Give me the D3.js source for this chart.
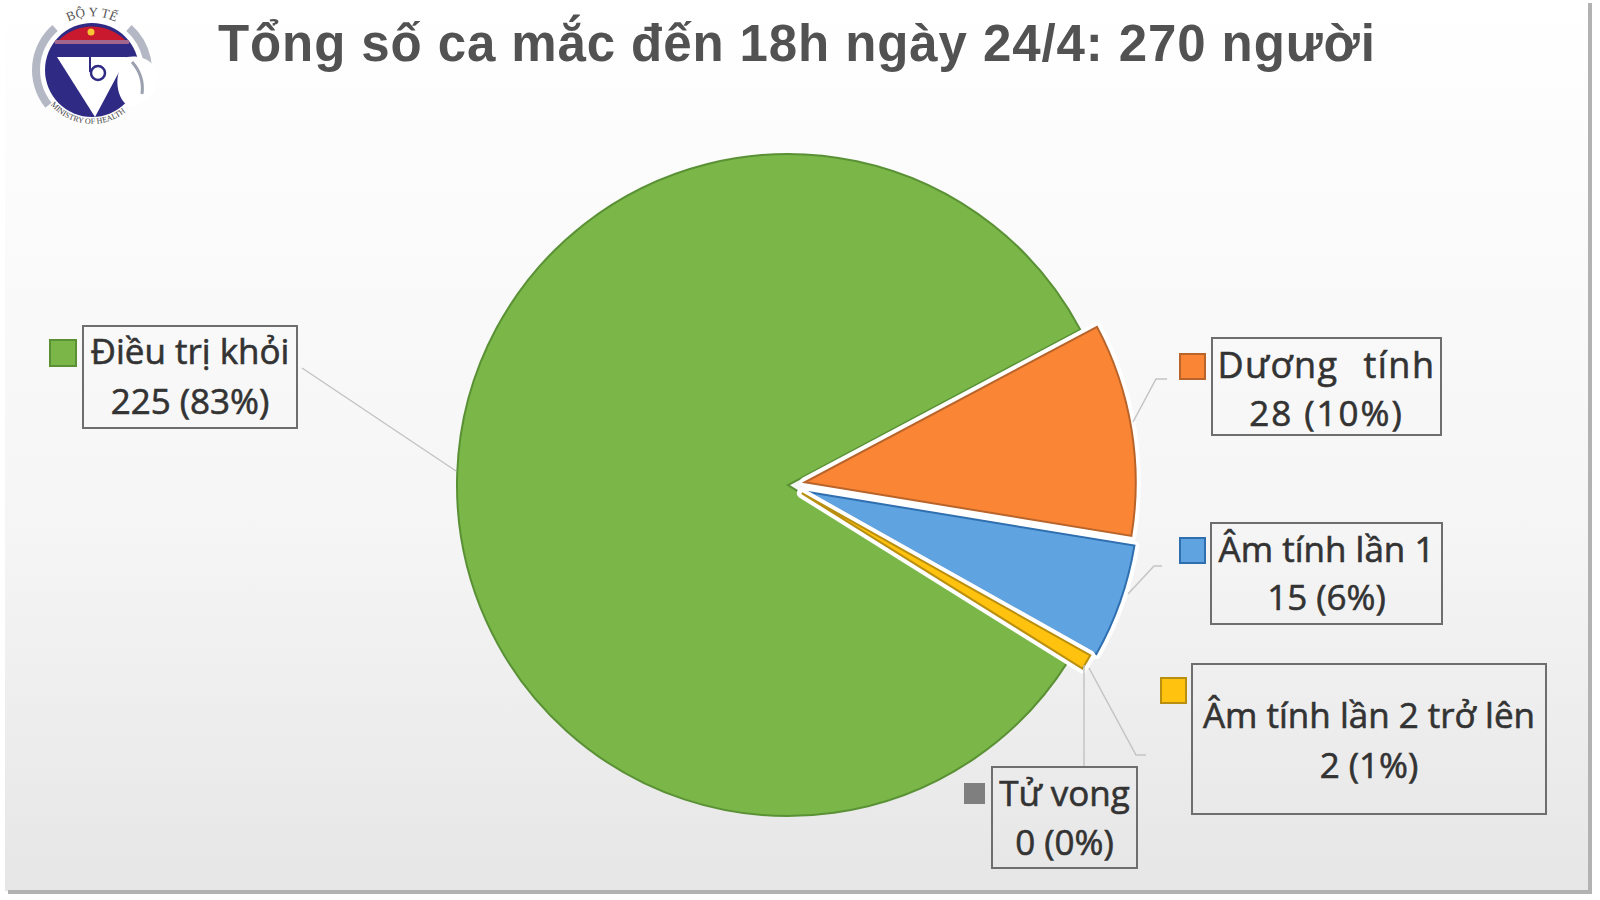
<!DOCTYPE html>
<html>
<head>
<meta charset="utf-8">
<script src="https://cdn.jsdelivr.net/npm/d3@7"></script>
<style>
html, body { margin: 0; padding: 0; background: #fff; }
svg { display: block; font-family: "Open Sans", "Noto Sans", sans-serif; }
</style>
</head>
<body>
<svg id="chart" width="1600" height="900"></svg>
<script>
var titleText = "Tổng số ca mắc đến 18h ngày 24/4: 270 người";
var categories = ["Điều trị khỏi", "Dương tính", "Âm tính lần 1", "Âm tính lần 2 trở lên", "Tử vong"];
var values = [225, 28, 15, 2, 0];
var percents = ["83%", "10%", "6%", "1%", "0%"];
var fills = ["#7ab648", "#f98535", "#5fa3e0", "#ffc20e", "#7f7f7f"];
var strokes = ["#5a9135", "#b8642a", "#2f6fb0", "#b98f10", "#7f7f7f"];
var explode = [0, 17, 21, 16, 16];

var width = 1600, height = 900,
    cx = 788, cy = 485, radius = 331;

var svg = d3.select("#chart");
var defs = svg.append("defs");

var bg = defs.append("linearGradient").attr("id", "bg")
    .attr("x1", 0).attr("y1", 0).attr("x2", 0).attr("y2", 1);
bg.append("stop").attr("offset", "0%").attr("stop-color", "#ffffff");
bg.append("stop").attr("offset", "60%").attr("stop-color", "#f5f5f5");
bg.append("stop").attr("offset", "100%").attr("stop-color", "#e6e6e6");

svg.append("rect").attr("width", width).attr("height", height).attr("fill", "#fff");
svg.append("rect")
    .attr("x", 5).attr("y", 0).attr("width", 1585).attr("height", 891)
    .attr("fill", "url(#bg)");
// shadow only on the right and the bottom
svg.append("path")
    .attr("d", "M1590,3 V892 H8")
    .attr("fill", "none")
    .attr("stroke", "#b2b2b2")
    .attr("stroke-width", 4);

svg.append("text")
    .attr("x", 218).attr("y", 61)
    .attr("font-family", "Liberation Sans")
    .attr("font-size", 51).attr("font-weight", 700)
    .attr("letter-spacing", 0.9)
    .attr("fill", "#525252")
    .text(titleText);

// logo
var logo = svg.append("g").attr("transform", "translate(92,70)");
var logoArc = d3.arc();
logo.append("path")
    .attr("d", logoArc({innerRadius: 52, outerRadius: 60, startAngle: -2.25, endAngle: -0.72}))
    .attr("fill", "#b4b8c4");
logo.append("path")
    .attr("d", logoArc({innerRadius: 52, outerRadius: 60, startAngle: 0.72, endAngle: 2.0}))
    .attr("fill", "#b4b8c4");
logo.append("circle").attr("r", 47).attr("fill", "#2f2a84");
logo.append("path")
    .attr("d", "M-33,-30 A47,47 0 0 1 33,-30 Z")
    .attr("fill", "#c9192e");
logo.append("rect").attr("x", -37).attr("y", -30).attr("width", 74).attr("height", 4).attr("fill", "#a2668e");
logo.append("path").attr("d", "M-35,-13 L35,-13 L3,47 Z").attr("fill", "#fff");
// white blob that cuts the right side of the logo
logo.append("path")
    .attr("d", "M35,-13 C52,-16 66,-6 66,8 C62,30 46,36 36,36 C22,26 22,0 35,-13 Z")
    .attr("fill", "#fff");
logo.append("path")
    .attr("d", "M40,-8 A40,40 0 0 1 50,24")
    .attr("fill", "none").attr("stroke", "#9aa0ae").attr("stroke-width", 3);
logo.append("circle").attr("cx", -1).attr("cy", -38).attr("r", 3.5).attr("fill", "#f7c531");
logo.append("path").attr("d", "M-2,-22 V2").attr("stroke", "#2f2a84").attr("stroke-width", 2);
logo.append("circle").attr("cx", 6).attr("cy", 3).attr("r", 7)
    .attr("fill", "#fff").attr("stroke", "#2f2a84").attr("stroke-width", 2.5);
defs.append("path").attr("id", "logoTop").attr("d", "M-46,-28 A54,54 0 0 1 46,-28");
defs.append("path").attr("id", "logoBottom").attr("d", "M-45,30 A54,54 0 0 0 38,38");
logo.append("text").attr("font-family", "Liberation Serif").attr("font-size", 13).attr("fill", "#555")
    .append("textPath").attr("href", "#logoTop").attr("startOffset", "50%").attr("text-anchor", "middle")
    .text("BỘ Y TẾ");
logo.append("text").attr("font-family", "Liberation Serif").attr("font-size", 8).attr("fill", "#444")
    .append("textPath").attr("href", "#logoBottom").attr("startOffset", "50%").attr("text-anchor", "middle")
    .text("MINISTRY OF HEALTH");

// pie
var startDeg = 122;
var pie = d3.pie().sort(null).value(function (d) { return d; })
    .startAngle(startDeg * Math.PI / 180)
    .endAngle((startDeg + 360) * Math.PI / 180);
var arcs = pie(values);
var arc = d3.arc().innerRadius(0).outerRadius(radius);

function offset(d, i) {
    var mid = (d.startAngle + d.endAngle) / 2;
    return "translate(" + (cx + explode[i] * Math.sin(mid)) + "," + (cy - explode[i] * Math.cos(mid)) + ")";
}

var slices = svg.append("g").selectAll("g")
    .data(arcs)
    .enter().append("g")
    .attr("transform", offset);

slices.append("path")
    .attr("d", arc)
    .attr("fill", "none")
    .attr("stroke", "#fff")
    .attr("stroke-width", function (d, i) { return i === 0 || d.value === 0 ? 0 : 10; })
    .attr("stroke-linejoin", "round");

slices.append("path")
    .attr("d", arc)
    .attr("fill", function (d, i) { return fills[i]; })
    .attr("stroke", function (d, i) { return d.value === 0 ? "none" : strokes[i]; })
    .attr("stroke-width", 2);

// leader lines
var leaders = [
    [[302, 368], [456, 471]],
    [[1133, 422], [1156, 379], [1167, 379]],
    [[1128, 594], [1154, 566], [1162, 566]],
    [[1089, 668], [1136, 755], [1146, 755]],
    [[1084, 665], [1084, 767]]
];
var line = d3.line();
svg.append("g").selectAll("path")
    .data(leaders)
    .enter().append("path")
    .attr("d", line)
    .attr("fill", "none")
    .attr("stroke", "#c4c4c4")
    .attr("stroke-width", 1.5);

// label boxes
var boxes = [
    {x: 83, y: 326, w: 214, h: 102, key: [50, 340, 26], ty: [364, 414], fs: [35, 35], ls: [0, 0], ws: 0},
    {x: 1212, y: 338, w: 229, h: 97, key: [1180, 354, 25], ty: [378, 426], fs: [36, 35], ls: [1.5, 2], ws: 14},
    {x: 1211, y: 523, w: 231, h: 101, key: [1180, 538, 25], ty: [562, 610], fs: [35, 35], ls: [0, 0], ws: 0},
    {x: 1192, y: 664, w: 354, h: 150, key: [1161, 678, 25], ty: [728, 778], fs: [35, 35], ls: [0, 0], ws: 0},
    {x: 992, y: 767, w: 145, h: 101, key: [965, 784, 19], ty: [806, 855], fs: [35, 35], ls: [0, 0], ws: 0}
];

var labels = svg.append("g").selectAll("g")
    .data(boxes)
    .enter().append("g");

labels.append("rect")
    .attr("x", function (d) { return d.x; })
    .attr("y", function (d) { return d.y; })
    .attr("width", function (d) { return d.w; })
    .attr("height", function (d) { return d.h; })
    .attr("fill", "none")
    .attr("stroke", "#6e6e6e")
    .attr("stroke-width", 2);

labels.append("rect")
    .attr("x", function (d) { return d.key[0]; })
    .attr("y", function (d) { return d.key[1]; })
    .attr("width", function (d) { return d.key[2]; })
    .attr("height", function (d) { return d.key[2]; })
    .attr("fill", function (d, i) { return fills[i]; })
    .attr("stroke", function (d, i) { return strokes[i]; })
    .attr("stroke-width", 2);

labels.append("text")
    .attr("x", function (d) { return d.x + d.w / 2; })
    .attr("y", function (d) { return d.ty[0]; })
    .attr("text-anchor", "middle")
    .attr("font-size", function (d) { return d.fs[0]; })
    .attr("letter-spacing", function (d) { return d.ls[0]; })
    .attr("word-spacing", function (d) { return d.ws; })
    .attr("fill", "#333")
    .attr("stroke", "#333").attr("stroke-width", 0.6)
    .text(function (d, i) { return categories[i]; });

labels.append("text")
    .attr("x", function (d) { return d.x + d.w / 2; })
    .attr("y", function (d) { return d.ty[1]; })
    .attr("text-anchor", "middle")
    .attr("font-size", function (d) { return d.fs[1]; })
    .attr("letter-spacing", function (d) { return d.ls[1]; })
    .attr("fill", "#333")
    .attr("stroke", "#333").attr("stroke-width", 0.6)
    .text(function (d, i) { return values[i] + " (" + percents[i] + ")"; });
</script>
</body>
</html>
